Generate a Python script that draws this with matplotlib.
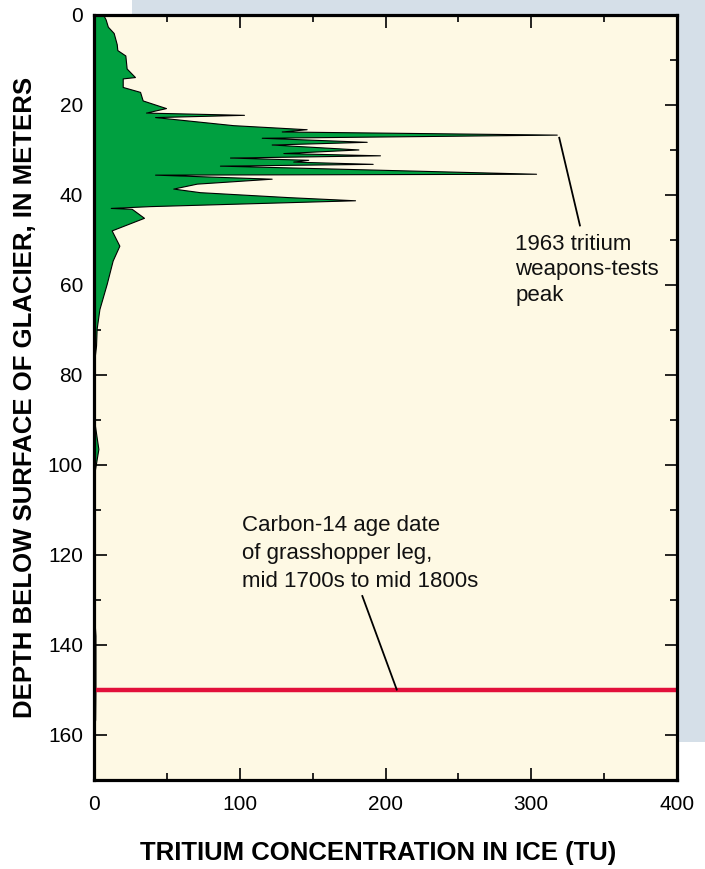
import matplotlib
matplotlib.use("Agg")
import matplotlib.pyplot as plt
from matplotlib.patches import Rectangle

# ---- data ----
depth_m = [0.0, 1.0, 2.6, 4.0, 6.5, 7.8, 9.0, 11.9, 13.8, 14.1, 16.0, 17.1, 19.0,
           20.7, 21.7, 22.2, 22.7, 24.5, 25.4, 25.9, 26.6, 27.3, 28.2, 28.8, 29.9,
           30.7, 31.2, 31.7, 32.2, 32.6, 33.1, 33.5, 35.3, 35.5, 36.4, 37.5, 38.6,
           39.4, 40.5, 41.2, 42.5, 42.9, 43.1, 45.1, 47.9, 51.3, 54.6, 59.8, 65.4,
           69.8, 73.5, 76.0, 80.0, 90.0, 91.0, 96.5, 101.4, 102.5, 133.0, 138.0,
           150.0, 156.7, 158.0]
tritium_tu = [6.4, 8.0, 9.5, 13.5, 15.6, 16.0, 21.5, 22.4, 28.1, 19.7, 19.7, 31.6, 33.4,
              49.4, 35.7, 102.9, 41.9, 95.6, 145.9, 128.8, 317.5, 115.1, 187.1, 121.9, 181.4,
              129.9, 196.2, 93.3, 147.0, 136.7, 191.2, 86.4, 303.3, 41.9, 121.9, 70.5, 54.4,
              72.7, 133.3, 179.1, 38.4, 11.5, 25.9, 34.3, 12.1, 17.4, 12.8, 8.7, 3.7,
              1.8, 1.4, 0.5, 0.0, 0.0, 0.5, 3.0, 0.5, 0.0, 0.0, 1.0,
              1.0, 0.8, 0.0]

x_ticks = [0, 100, 200, 300, 400]
x_minor = [50, 150, 250, 350]
y_ticks = [0, 20, 40, 60, 80, 100, 120, 140, 160]
y_minor = [10, 30, 50, 70, 90, 110, 130, 150]

grasshopper_depth = 150
peak_label = ["1963 tritium", "weapons-tests", "peak"]
c14_label = ["Carbon-14 age date", "of grasshopper leg,", "mid 1700s to mid 1800s"]

plt.rcParams['font.family'] = ['Liberation Sans', 'DejaVu Sans']

fig = plt.figure(figsize=(7.05, 8.69), dpi=100)
fig.patch.set_facecolor('white')
fig.patches.append(Rectangle((132/705, 1 - 742/869), 1 - 132/705, 742/869,
                             transform=fig.transFigure, facecolor='#d5dfe8',
                             edgecolor='none', zorder=-5))

ax = fig.add_axes([94/705, 1 - 779.5/869, 583/705, 764.5/869])
ax.set_zorder(2)
ax.set_facecolor('#fef9e4')

ax.fill_betweenx(depth_m, 0, tritium_tu, facecolor='#00a040', edgecolor='black',
                 linewidth=0.8, zorder=2)

ax.axhline(grasshopper_depth, color='#e2103a', linewidth=3.2, zorder=3)

ax.set_xlim(0, 400)
ax.set_ylim(170, 0)
ax.set_xticks(x_ticks)
ax.set_xticks(x_minor, minor=True)
ax.set_yticks(y_ticks)
ax.set_yticks(y_minor, minor=True)
ax.tick_params(which='both', direction='in', top=True, right=True, width=1.2,
               labelsize=15)
ax.tick_params(which='major', length=9)
ax.tick_params(which='minor', length=4.8)
ax.tick_params(axis='x', which='major', pad=11)
ax.tick_params(axis='y', which='major', pad=8)
for s in ax.spines.values():
    s.set_linewidth(2.3)
    s.set_zorder(5)

# annotations
ax.plot([319.2, 333.4], [27.3, 46.8], color='black', linewidth=1.3, zorder=4)
for txt, d in zip(peak_label, [52.2, 57.9, 63.7]):
    ax.text(288.9, d, txt, fontsize=16, ha='left', va='baseline', color='#111111')

ax.plot([184.1, 207.7], [129.2, 150.0], color='black', linewidth=1.3, zorder=4)
for txt, d in zip(c14_label, [114.7, 121.0, 127.1]):
    ax.text(101.3, d, txt, fontsize=16, ha='left', va='baseline', color='#111111')

fig.text(0.036, 1 - 397/869, "DEPTH BELOW SURFACE OF GLACIER, IN METERS",
         rotation=90, ha='center', va='center', fontsize=18.5, fontweight='bold')
fig.text(378/705, 1 - 853/869, "TRITIUM CONCENTRATION IN ICE (TU)",
         ha='center', va='center', fontsize=18.5, fontweight='bold')

fig.savefig("out.png", dpi=100)
